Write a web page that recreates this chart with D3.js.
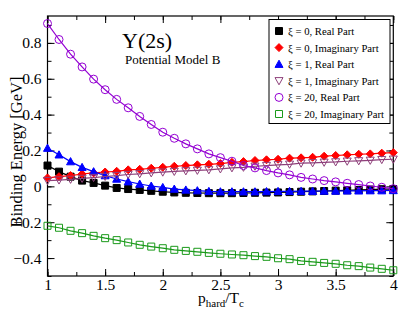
<!DOCTYPE html>
<meta charset="utf-8">
<style>
body { margin: 0; background: white; }
svg { display: block; }
</style>
<body>
<script src="https://d3js.org/d3.v7.min.js"></script>
<script>
// data
var pHard = [1.0, 1.1, 1.2, 1.3, 1.4, 1.5, 1.6, 1.7, 1.8, 1.9, 2.0, 2.1, 2.2, 2.3, 2.4, 2.5,
             2.6, 2.7, 2.8, 2.9, 3.0, 3.1, 3.2, 3.3, 3.4, 3.5, 3.6, 3.7, 3.8, 3.9, 4.0];
var xi0Real = [0.116, 0.082, 0.054, 0.032, 0.019, 0.004, -0.009, -0.015, -0.020, -0.025, -0.030,
               -0.034, -0.036, -0.037, -0.038, -0.038, -0.038, -0.037, -0.036, -0.035, -0.034,
               -0.032, -0.030, -0.028, -0.026, -0.024, -0.022, -0.020, -0.018, -0.016, -0.015];
var xi0Imag = [0.047, 0.054, 0.060, 0.069, 0.075, 0.080, 0.084, 0.092, 0.095, 0.101, 0.106,
               0.112, 0.116, 0.120, 0.123, 0.127, 0.134, 0.138, 0.144, 0.148, 0.151,
               0.157, 0.159, 0.162, 0.168, 0.172, 0.176, 0.179, 0.181, 0.185, 0.188];
var xi1Real = [0.213, 0.176, 0.138, 0.106, 0.082, 0.060, 0.041, 0.026, 0.013, 0.002, -0.006,
               -0.015, -0.020, -0.024, -0.028, -0.030, -0.030, -0.030, -0.030, -0.029, -0.028,
               -0.028, -0.027, -0.027, -0.026, -0.026, -0.025, -0.025, -0.024, -0.024, -0.023];
var xi1Imag = [0.032, 0.035, 0.039, 0.044, 0.049, 0.055, 0.060, 0.066, 0.070, 0.075, 0.079,
               0.083, 0.086, 0.089, 0.092, 0.097, 0.103, 0.106, 0.112, 0.116, 0.120,
               0.123, 0.129, 0.131, 0.134, 0.136, 0.140, 0.142, 0.145, 0.149, 0.151];
var xi20Real = [0.908, 0.819, 0.737, 0.666, 0.598, 0.539, 0.485, 0.438, 0.390, 0.345, 0.302,
                0.268, 0.237, 0.209, 0.181, 0.160, 0.140, 0.116, 0.103, 0.088, 0.075,
                0.064, 0.050, 0.041, 0.032, 0.025, 0.017, 0.010, 0.002, -0.005, -0.013];
var xi20Imag = [-0.220, -0.231, -0.248, -0.261, -0.276, -0.289, -0.300, -0.313, -0.326, -0.336, -0.345,
                -0.354, -0.360, -0.365, -0.371, -0.376, -0.380, -0.384, -0.389, -0.393, -0.401,
                -0.406, -0.416, -0.421, -0.427, -0.432, -0.440, -0.445, -0.453, -0.460, -0.468];
var seriesLabels = ["\u03be = 0, Real Part", "\u03be = 0, Imaginary Part", "\u03be = 1, Real Part",
                    "\u03be = 1, Imaginary Part", "\u03be = 20, Real Part", "\u03be = 20, Imaginary Part"];
var xTicks = [1, 1.5, 2, 2.5, 3, 3.5, 4];
var yTicks = [-0.4, -0.2, 0, 0.2, 0.4, 0.6, 0.8];

var series = [
  {values: xi0Real,  label: seriesLabels[0], color: "#000000", shape: "square",   fill: true,  size: 7},
  {values: xi0Imag,  label: seriesLabels[1], color: "#ff0000", shape: "diamond",  fill: true,  size: 8},
  {values: xi1Real,  label: seriesLabels[2], color: "#0000ff", shape: "triup",    fill: true,  size: 8},
  {values: xi1Imag,  label: seriesLabels[3], color: "#8e3f7a", shape: "tridown",  fill: false, size: 8},
  {values: xi20Real, label: seriesLabels[4], color: "#9400d3", shape: "circle",   fill: false, size: 8},
  {values: xi20Imag, label: seriesLabels[5], color: "#1a9a1a", shape: "square",   fill: false, size: 7}
];

var W = 407, H = 315;
var margin = {left: 47.5, right: 13.7, top: 16, bottom: 39};
var serif = "'Liberation Serif'";

var svg = d3.select("body").append("svg")
    .attr("width", W).attr("height", H);

var x = d3.scaleLinear().domain([1, 4]).range([margin.left, W - margin.right]);
var y = d3.scaleLinear().domain([-0.5, 0.95]).range([H - margin.bottom, margin.top]);

function shapePath(shape, s) {
  var h = s / 2;
  if (shape == "square") return "M" + (-h) + "," + (-h) + "h" + s + "v" + s + "h" + (-s) + "Z";
  if (shape == "diamond") return "M0," + (-h) + "L" + h + ",0L0," + h + "L" + (-h) + ",0Z";
  if (shape == "triup") return "M0," + (-h) + "L" + h + "," + (h * 0.8) + "L" + (-h) + "," + (h * 0.8) + "Z";
  if (shape == "tridown") return "M0," + h + "L" + h + "," + (-h * 0.8) + "L" + (-h) + "," + (-h * 0.8) + "Z";
  return d3.arc()({innerRadius: 0, outerRadius: h, startAngle: 0, endAngle: 2 * Math.PI});
}

// axes, ticks pointing inward
var minorX = d3.range(1, 4.001, 0.25), minorY = d3.range(-0.5, 0.951, 0.1);
function addAxis(axis, tr) {
  return svg.append("g").attr("class", "ax").attr("transform", tr).call(axis);
}
var xb = "translate(0," + y.range()[0] + ")", xt = "translate(0," + y.range()[1] + ")";
var yl = "translate(" + x.range()[0] + ",0)", yr = "translate(" + x.range()[1] + ",0)";
addAxis(d3.axisBottom(x).tickValues(minorX).tickSize(-4).tickFormat(""), xb);
addAxis(d3.axisBottom(x).tickValues(xTicks).tickSize(-7).tickPadding(3).tickFormat(d3.format("")), xb);
addAxis(d3.axisTop(x).tickValues(minorX).tickSize(-4).tickFormat(""), xt);
addAxis(d3.axisTop(x).tickValues(xTicks).tickSize(-7).tickFormat(""), xt);
addAxis(d3.axisLeft(y).tickValues(minorY).tickSize(-4).tickFormat(""), yl);
addAxis(d3.axisLeft(y).tickValues(yTicks).tickSize(-7).tickPadding(6).tickFormat(d3.format("")), yl);
addAxis(d3.axisRight(y).tickValues(minorY).tickSize(-4).tickFormat(""), yr);
addAxis(d3.axisRight(y).tickValues(yTicks).tickSize(-7).tickFormat(""), yr);
svg.selectAll(".ax .domain").remove();
svg.selectAll(".ax line").attr("stroke", "#000").attr("stroke-width", 1);
svg.selectAll(".ax text").attr("fill", "#000").style("font-family", serif).style("font-size", "15.5px");

svg.append("rect")
    .attr("x", x.range()[0]).attr("y", y.range()[1])
    .attr("width", x.range()[1] - x.range()[0]).attr("height", y.range()[0] - y.range()[1])
    .attr("fill", "none").attr("stroke", "#000").attr("stroke-width", 1.2);

// series
var line = d3.line().x(function(d) { return x(d[0]); }).y(function(d) { return y(d[1]); });
series.forEach(function(s) {
  var pts = pHard.map(function(p, i) { return [p, s.values[i]]; });
  var g = svg.append("g");
  g.append("path").attr("d", line(pts)).attr("fill", "none")
      .attr("stroke", s.color).attr("stroke-width", 1.2);
  g.selectAll("path.m").data(pts).enter().append("path")
      .attr("class", "m")
      .attr("transform", function(d) { return "translate(" + x(d[0]) + "," + y(d[1]) + ")"; })
      .attr("d", shapePath(s.shape, s.size))
      .attr("fill", s.fill ? s.color : "none")
      .attr("stroke", s.color).attr("stroke-width", 1);
});

// legend
var leg = svg.append("g");
leg.append("rect").attr("x", 269).attr("y", 19.5).attr("width", 121).attr("height", 104)
    .attr("fill", "white").attr("stroke", "#000").attr("stroke-width", 1);
series.forEach(function(s, i) {
  var ly = 31 + i * 16.6;
  leg.append("path").attr("transform", "translate(279," + ly + ")")
      .attr("d", shapePath(s.shape, s.size))
      .attr("fill", s.fill ? s.color : "none").attr("stroke", s.color).attr("stroke-width", 1);
  leg.append("text").attr("x", 288).attr("y", ly + 4)
      .style("font-family", serif).style("font-size", "10.7px").text(s.label);
});

// titles
svg.append("text").attr("x", 122).attr("y", 48)
    .style("font-family", serif).style("font-size", "22px").text("\u03a5(2s)");
svg.append("text").attr("x", 125).attr("y", 64)
    .style("font-family", serif).style("font-size", "13px").text("Potential Model B");

var xl = svg.append("text").attr("x", 221).attr("y", 303).attr("text-anchor", "middle")
    .style("font-family", serif).style("font-size", "15.5px");
xl.append("tspan").text("p");
xl.append("tspan").style("font-size", "11px").attr("dy", 4).text("hard");
xl.append("tspan").attr("dy", -4).text("/T");
xl.append("tspan").style("font-size", "11px").attr("dy", 4).text("c");

svg.append("text").attr("transform", "translate(22,152) rotate(-90)")
    .attr("text-anchor", "middle")
    .style("font-family", serif).style("font-size", "16.5px").text("Binding Energy [GeV]");
</script>
</body>
